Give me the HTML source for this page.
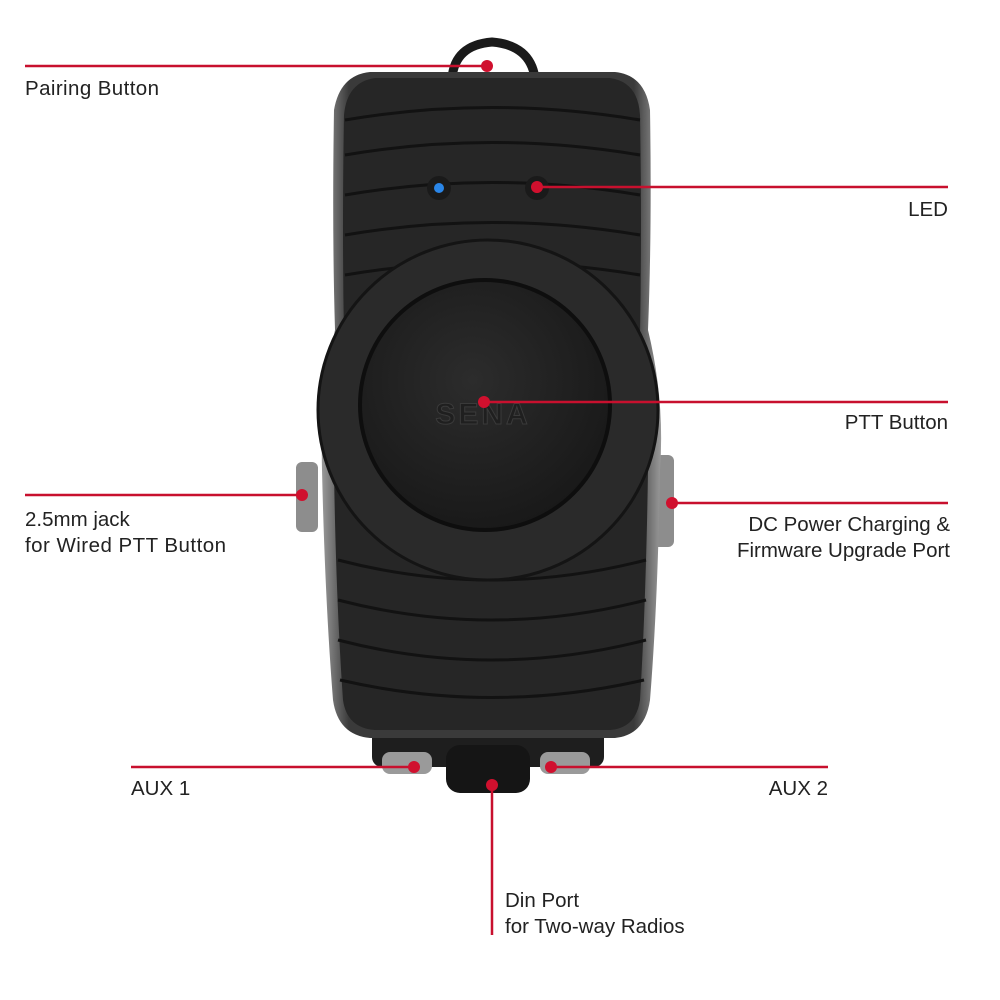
<!DOCTYPE html>
<html><head><meta charset="utf-8"><style>
html,body{margin:0;padding:0;background:#fff;width:1000px;height:1000px;overflow:hidden}
svg{display:block}
text{font-family:"Liberation Sans",sans-serif;font-size:20.5px;fill:#222}
</style></head><body>
<svg width="1000" height="1000" viewBox="0 0 1000 1000">
<defs>
<radialGradient id="btn" cx="0.45" cy="0.4" r="0.7"><stop offset="0" stop-color="#2c2c2c"/><stop offset="1" stop-color="#161616"/></radialGradient>
<linearGradient id="side" x1="0" x2="1"><stop offset="0" stop-color="#9a9a9a"/><stop offset="0.08" stop-color="#3a3a3a"/><stop offset="0.92" stop-color="#3a3a3a"/><stop offset="1" stop-color="#9a9a9a"/></linearGradient>
</defs>
<path d="M452 78 Q455 45 492 42 Q530 45 535 78" fill="none" stroke="#1a1a1a" stroke-width="9"/>
<rect x="296" y="462" width="22" height="70" rx="6" fill="#8d8d8d"/>
<rect x="652" y="455" width="22" height="92" rx="6" fill="#8d8d8d"/>
<rect x="372" y="715" width="232" height="52" rx="10" fill="#1e1e1e"/>
<rect x="382" y="752" width="50" height="22" rx="8" fill="#9a9a9a"/>
<rect x="540" y="752" width="50" height="22" rx="8" fill="#9a9a9a"/>
<rect x="446" y="745" width="84" height="48" rx="14" fill="#151515"/>
<path d="M370 72 L615 72 Q645 75 650 110 Q652 230 648 330 Q665 400 660 470 Q658 600 650 700 Q645 735 615 738 L370 738 Q338 735 333 700 Q325 600 322 470 Q320 400 335 330 Q332 230 334 110 Q340 75 370 72 Z" fill="url(#side)"/>
<path d="M375 78 L610 78 Q638 82 640 115 Q642 230 640 335 Q652 400 648 470 Q646 600 640 700 Q636 728 610 730 L375 730 Q347 728 343 700 Q336 600 334 470 Q332 400 344 335 Q342 230 344 115 Q347 82 375 78 Z" fill="#262626"/>
<g fill="none" stroke="#121212" stroke-width="3">
<path d="M345 120 Q492 95 640 120"/><path d="M345 155 Q492 130 640 155"/><path d="M345 195 Q492 170 640 195"/><path d="M345 235 Q492 210 640 235"/><path d="M345 275 Q492 250 640 275"/>
<path d="M338 560 Q492 600 646 560"/><path d="M338 600 Q492 640 646 600"/><path d="M338 640 Q492 680 646 640"/><path d="M340 680 Q492 715 644 680"/>
</g>
<circle cx="488" cy="410" r="170" fill="#2a2a2a" stroke="#141414" stroke-width="3"/>
<circle cx="485" cy="405" r="125" fill="url(#btn)" stroke="#0e0e0e" stroke-width="4"/>
<text x="483" y="424" text-anchor="middle" style="font-size:30px;font-weight:bold;fill:#1f1f1f;stroke:#3a3a3a;stroke-width:1;letter-spacing:3px">SENA</text>
<circle cx="439" cy="188" r="12" fill="#1a1a1a"/><circle cx="439" cy="188" r="5" fill="#2a86e8"/>
<circle cx="537" cy="188" r="12" fill="#1a1a1a"/><circle cx="537" cy="188" r="5" fill="#e0202a"/>
<g stroke="#c8102e" stroke-width="2.5" fill="none">
<line x1="25" y1="66" x2="487" y2="66"/>
<line x1="537" y1="187" x2="948" y2="187"/>
<line x1="484" y1="402" x2="948" y2="402"/>
<line x1="25" y1="495" x2="302" y2="495"/>
<line x1="672" y1="503" x2="948" y2="503"/>
<line x1="131" y1="767" x2="414" y2="767"/>
<line x1="551" y1="767" x2="828" y2="767"/>
<line x1="492" y1="785" x2="492" y2="935"/>
</g>
<g fill="#d0102e">
<circle cx="487" cy="66" r="6"/><circle cx="537" cy="187" r="6"/><circle cx="484" cy="402" r="6"/>
<circle cx="302" cy="495" r="6"/><circle cx="672" cy="503" r="6"/><circle cx="414" cy="767" r="6"/>
<circle cx="551" cy="767" r="6"/><circle cx="492" cy="785" r="6"/>
</g>
<text x="25" y="95" textLength="134">Pairing Button</text>
<text x="948" y="216" text-anchor="end">LED</text>
<text x="948" y="429" text-anchor="end">PTT Button</text>
<text x="25" y="526">2.5mm jack</text>
<text x="25" y="552" textLength="201">for Wired PTT Button</text>
<text x="950" y="531" text-anchor="end">DC Power Charging &amp;</text>
<text x="950" y="557" text-anchor="end">Firmware Upgrade Port</text>
<text x="131" y="795">AUX 1</text>
<text x="828" y="795" text-anchor="end">AUX 2</text>
<text x="505" y="907">Din Port</text>
<text x="505" y="933">for Two-way Radios</text>
</svg>
</body></html>
